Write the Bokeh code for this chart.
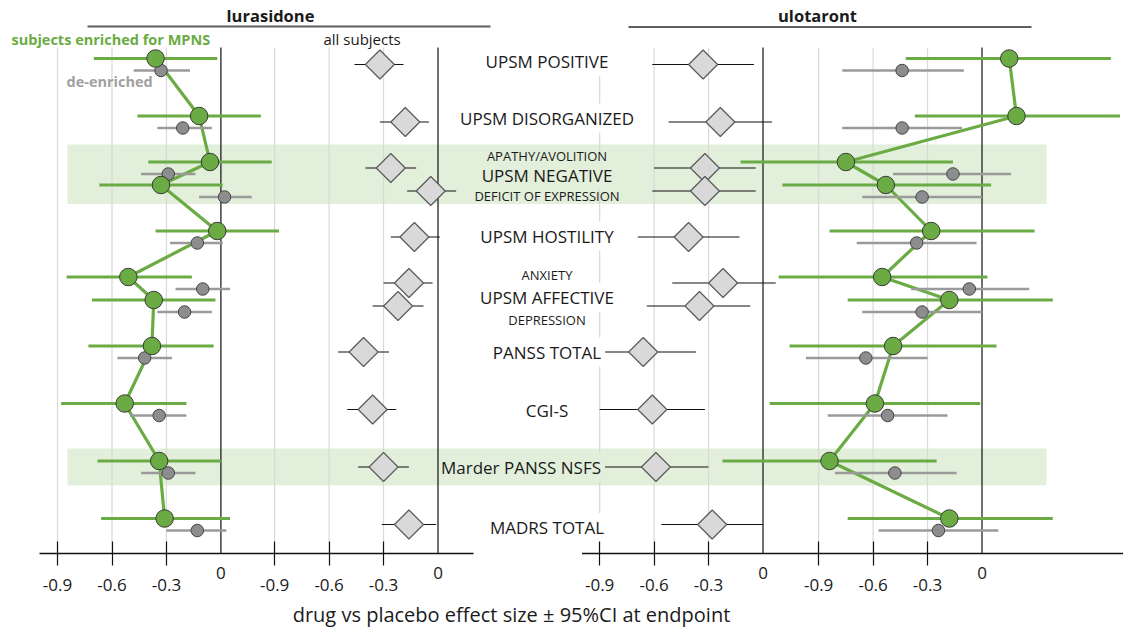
import math
from bokeh.plotting import figure
from bokeh.models import Range1d, FixedTicker
from bokeh.core.properties import value
from bokeh.embed import file_html
from bokeh.resources import INLINE

# ---------------- data ----------------
measures = ["UPSM POSITIVE", "UPSM DISORGANIZED", "APATHY/AVOLITION",
            "DEFICIT OF EXPRESSION", "UPSM HOSTILITY", "ANXIETY", "DEPRESSION",
            "PANSS TOTAL", "CGI-S", "Marder PANSS NSFS", "MADRS TOTAL"]
measure_group = [0, 1, 2, 2, 3, 4, 4, 5, 6, 7, 8]
measure_sub = [0, 0, -1, 1, 0, -1, 1, 0, 0, 0, 0]

group_labels = ["UPSM POSITIVE", "UPSM DISORGANIZED", "UPSM NEGATIVE", "UPSM HOSTILITY",
                "UPSM AFFECTIVE", "PANSS TOTAL", "CGI-S", "Marder PANSS NSFS", "MADRS TOTAL"]
sub_labels = ["APATHY/AVOLITION", "DEFICIT OF EXPRESSION", "ANXIETY", "DEPRESSION"]
sub_label_group = [2, 2, 4, 4]
shaded_groups = [2, 7]

tick_values = [-0.9, -0.6, -0.3]
tick_labels = ["-0.9", "-0.6", "-0.3"]
zero_label = "0"
drug_titles = ["lurasidone", "ulotaront"]
legend_labels = ["subjects enriched for MPNS", "de-enriched", "all subjects"]
x_title = "drug vs placebo effect size \u00b1 95%CI at endpoint"

# lurasidone, all subjects (diamonds)
lur_all = [-0.32, -0.18, -0.26, -0.04, -0.13, -0.16, -0.22, -0.41, -0.36, -0.30, -0.16]
lur_all_lo = [-0.46, -0.32, -0.40, -0.17, -0.26, -0.30, -0.36, -0.55, -0.50, -0.44, -0.31]
lur_all_hi = [-0.19, -0.05, -0.12, 0.10, 0.01, -0.03, -0.08, -0.27, -0.23, -0.16, -0.01]
# lurasidone, subjects enriched for MPNS
lur_enr = [-0.36, -0.12, -0.06, -0.33, -0.02, -0.51, -0.37, -0.38, -0.53, -0.34, -0.31]
lur_enr_lo = [-0.70, -0.46, -0.40, -0.67, -0.36, -0.85, -0.71, -0.73, -0.88, -0.68, -0.66]
lur_enr_hi = [-0.02, 0.22, 0.28, 0.01, 0.32, -0.16, -0.03, -0.04, -0.19, 0.00, 0.05]
# lurasidone, de-enriched
lur_den = [-0.33, -0.21, -0.29, 0.02, -0.13, -0.10, -0.20, -0.42, -0.34, -0.29, -0.13]
lur_den_lo = [-0.48, -0.35, -0.44, -0.12, -0.28, -0.25, -0.35, -0.57, -0.50, -0.44, -0.30]
lur_den_hi = [-0.17, -0.05, -0.14, 0.17, 0.01, 0.05, -0.05, -0.27, -0.19, -0.14, 0.03]

# ulotaront, all subjects (diamonds)
ulo_all = [-0.33, -0.235, -0.32, -0.32, -0.41, -0.22, -0.35, -0.66, -0.61, -0.59, -0.28]
ulo_all_lo = [-0.61, -0.52, -0.60, -0.61, -0.69, -0.50, -0.64, -0.87, -0.90, -0.87, -0.56]
ulo_all_hi = [-0.05, 0.05, -0.04, -0.04, -0.13, 0.07, -0.07, -0.37, -0.32, -0.30, 0.00]
# ulotaront, subjects enriched for MPNS
ulo_enr = [0.15, 0.19, -0.75, -0.53, -0.28, -0.55, -0.18, -0.49, -0.59, -0.84, -0.18]
ulo_enr_lo = [-0.42, -0.37, -1.33, -1.10, -0.84, -1.12, -0.74, -1.06, -1.17, -1.43, -0.74]
ulo_enr_hi = [0.71, 0.76, -0.16, 0.05, 0.29, 0.03, 0.39, 0.08, -0.01, -0.25, 0.39]
# ulotaront, de-enriched
ulo_den = [-0.44, -0.44, -0.16, -0.33, -0.36, -0.07, -0.33, -0.64, -0.52, -0.48, -0.24]
ulo_den_lo = [-0.77, -0.77, -0.49, -0.66, -0.69, -0.39, -0.66, -0.97, -0.85, -0.81, -0.57]
ulo_den_hi = [-0.10, -0.11, 0.16, 0.00, -0.03, 0.26, 0.00, -0.30, -0.19, -0.14, 0.09]

# ---------------- layout / style ----------------
FONT = "Open Sans"
GREEN = "#6aab44"
GREY_LINE = "#9a9a9a"
GREY_FILL = "#8d8d90"
DIAMOND_FILL = "#d9d9d9"
BAND = "#e2efda"
GRID = "#d9d9d9"
TEXT = "#1a1a1a"

W, H = 1123, 631
PX_PER_UNIT = 181.5
PX_PER_GROUP = 57.5
X0_PAGE = 220.4
Y0_PAGE = 64.0


def ux(px):
    return (px - X0_PAGE) / PX_PER_UNIT


def gy(py):
    return (py - Y0_PAGE) / PX_PER_GROUP


def dy(px):
    return px / PX_PER_GROUP


OFF_LUR_ENR = 0.0
OFF_LUR_ALL = round(ux(437.5), 4)
OFF_ULO_ALL = round(ux(762.5), 4)
OFF_ULO_ENR = round(ux(981.5), 4)
offsets = [OFF_LUR_ENR, OFF_LUR_ALL, OFF_ULO_ALL, OFF_ULO_ENR]

row_y = [g + s * dy(11.5) for g, s in zip(measure_group, measure_sub)]
green_y = [r - dy(6) for r in row_y]
grey_y = [r + dy(6) for r in row_y]

label_dy = [-3, -4, -4, -1, 3, 0, 1, 0, 3]
label_dx = [0, 0, 0, 0, 0, 0, 0, -26, 0]
sub_dy = [-20, 20, -23, 22]
LABEL_X = 546.5

p = figure(width=W, height=H,
           x_range=Range1d(ux(0), ux(W)), y_range=Range1d(gy(H), gy(0)),
           output_backend="svg", toolbar_location=None, y_axis_location=None,
           min_border_left=0, min_border_right=0, min_border_top=0, min_border_bottom=0,
           outline_line_color=None)
p.xgrid.grid_line_color = None
p.ygrid.grid_line_color = None

# shaded bands
band_top = {2: -35, 7: -18.5}
band_bot = {2: 24.5, 7: 18.5}
p.quad(left=[ux(67)] * len(shaded_groups), right=[ux(1046)] * len(shaded_groups),
       top=[g + dy(band_top[g]) for g in shaded_groups],
       bottom=[g + dy(band_bot[g]) for g in shaded_groups],
       fill_color=BAND, line_color=None)

# grid lines
gx = [v + off for off in offsets for v in tick_values]
GTOP, GBOT = gy(47), gy(553)
p.segment(x0=gx, y0=[GTOP] * len(gx), x1=gx, y1=[GBOT] * len(gx), line_color=GRID, line_width=1.2)

# category labels
main_x, main_y = [], []
for g in range(len(group_labels)):
    main_x.append(ux(LABEL_X + label_dx[g]))
    main_y.append(g + dy(label_dy[g]))
white_idx = [i for i in range(len(group_labels)) if i not in shaded_groups]
band_idx = [i for i in range(len(group_labels)) if i in shaded_groups]
for idx, bg in ((white_idx, "white"), (band_idx, BAND)):
    p.text(x=[main_x[i] for i in idx], y=[main_y[i] for i in idx], text=[group_labels[i] for i in idx],
           text_font=value(FONT), text_font_size="17px", text_align="center", text_baseline="middle",
           text_color=TEXT, background_fill_color=bg, padding=3)
sub_x = [ux(LABEL_X)] * len(sub_labels)
sub_y = [main_y[g] + dy(d) for g, d in zip(sub_label_group, sub_dy)]
p.text(x=sub_x, y=sub_y, text=sub_labels, text_font=value(FONT), text_font_size="13px",
       text_align="center", text_baseline="middle", text_color=TEXT)

# zero lines
p.segment(x0=offsets, y0=[GTOP] * 4, x1=offsets, y1=[GBOT] * 4, line_color="#111111", line_width=1.2)

# baselines
BASE_Y = gy(553)
p.segment(x0=[ux(39), ux(581.5)], y0=[BASE_Y, BASE_Y], x1=[ux(473), ux(W)], y1=[BASE_Y, BASE_Y],
          line_color="#111111", line_width=1.3)

# all-subject diamonds
for vals, lo, hi, off in ((lur_all, lur_all_lo, lur_all_hi, OFF_LUR_ALL),
                          (ulo_all, ulo_all_lo, ulo_all_hi, OFF_ULO_ALL)):
    p.segment(x0=[v + off for v in lo], x1=[v + off for v in hi], y0=row_y, y1=row_y,
              line_color="#111111", line_width=1.2)
    p.scatter(x=[v + off for v in vals], y=row_y, marker="square", size=20.5, angle=math.pi / 4,
              fill_color=DIAMOND_FILL, line_color="#5a5a5a", line_width=1.2)

# enriched / de-enriched
for enr, elo, ehi, den, dlo, dhi, off in (
        (lur_enr, lur_enr_lo, lur_enr_hi, lur_den, lur_den_lo, lur_den_hi, OFF_LUR_ENR),
        (ulo_enr, ulo_enr_lo, ulo_enr_hi, ulo_den, ulo_den_lo, ulo_den_hi, OFF_ULO_ENR)):
    p.segment(x0=[v + off for v in elo], x1=[v + off for v in ehi], y0=green_y, y1=green_y,
              line_color=GREEN, line_width=3.2)
    p.line(x=[v + off for v in enr], y=green_y, line_color=GREEN, line_width=3.2)
    p.segment(x0=[v + off for v in dlo], x1=[v + off for v in dhi], y0=grey_y, y1=grey_y,
              line_color=GREY_LINE, line_width=2.4)
    p.scatter(x=[v + off for v in den], y=grey_y, marker="circle", size=12.5,
              fill_color=GREY_FILL, line_color="#444444", line_width=1)
    p.scatter(x=[v + off for v in enr], y=green_y, marker="circle", size=17.5,
              fill_color=GREEN, line_color="#3a3a3a", line_width=1)

# drug titles with underline
p.text(x=[ux(270), ux(817)], y=[gy(15), gy(15)], text=drug_titles,
       text_font=value(FONT), text_font_size="16.5px", text_font_style="bold",
       text_align="center", text_baseline="middle", text_color=TEXT)
p.segment(x0=[ux(87), ux(628)], x1=[ux(490), ux(1031)], y0=[gy(26), gy(26.5)], y1=[gy(26), gy(26.5)],
          line_color="#5f5f5f", line_width=2)

# legend texts
p.text(x=[ux(11)], y=[gy(39)], text=[legend_labels[0]], text_font=value(FONT),
       text_font_size="14.5px", text_font_style="bold", text_color=GREEN,
       text_align="left", text_baseline="middle")
p.text(x=[ux(66)], y=[gy(81)], text=[legend_labels[1]], text_font=value(FONT),
       text_font_size="14.5px", text_font_style="bold", text_color="#a0a0a0",
       text_align="left", text_baseline="middle")
p.text(x=[ux(323)], y=[gy(38)], text=[legend_labels[2]], text_font=value(FONT),
       text_font_size="15px", text_color=TEXT, text_align="left", text_baseline="middle")

# x axis drawn at the baseline inside the plot
ticks, overrides = [], {}
for off in offsets:
    for v, lab in zip(tick_values, tick_labels):
        t = round(v + off, 4)
        ticks.append(t)
        overrides[t] = lab
ax = p.xaxis[0]
ax.fixed_location = BASE_Y
ax.ticker = FixedTicker(ticks=ticks)
ax.major_label_overrides = overrides
ax.axis_line_color = None
ax.major_tick_line_color = "#111111"
ax.major_tick_line_width = 1.2
ax.major_tick_in = 12
ax.major_tick_out = 12
ax.minor_tick_line_color = None
ax.major_label_text_font = FONT
ax.major_label_text_font_size = "17px"
ax.major_label_text_color = TEXT
ax.major_label_standoff = 13

# zero labels (raised) and axis title
p.text(x=offsets, y=[gy(572)] * 4, text=[zero_label] * 4, text_font=value(FONT),
       text_font_size="17px", text_color=TEXT, text_align="center", text_baseline="middle")
p.text(x=[ux(511)], y=[gy(614)], text=[x_title], text_font=value(FONT),
       text_font_size="20px", text_color=TEXT, text_align="center", text_baseline="middle")

open("out.html", "w").write(file_html(p, INLINE))
